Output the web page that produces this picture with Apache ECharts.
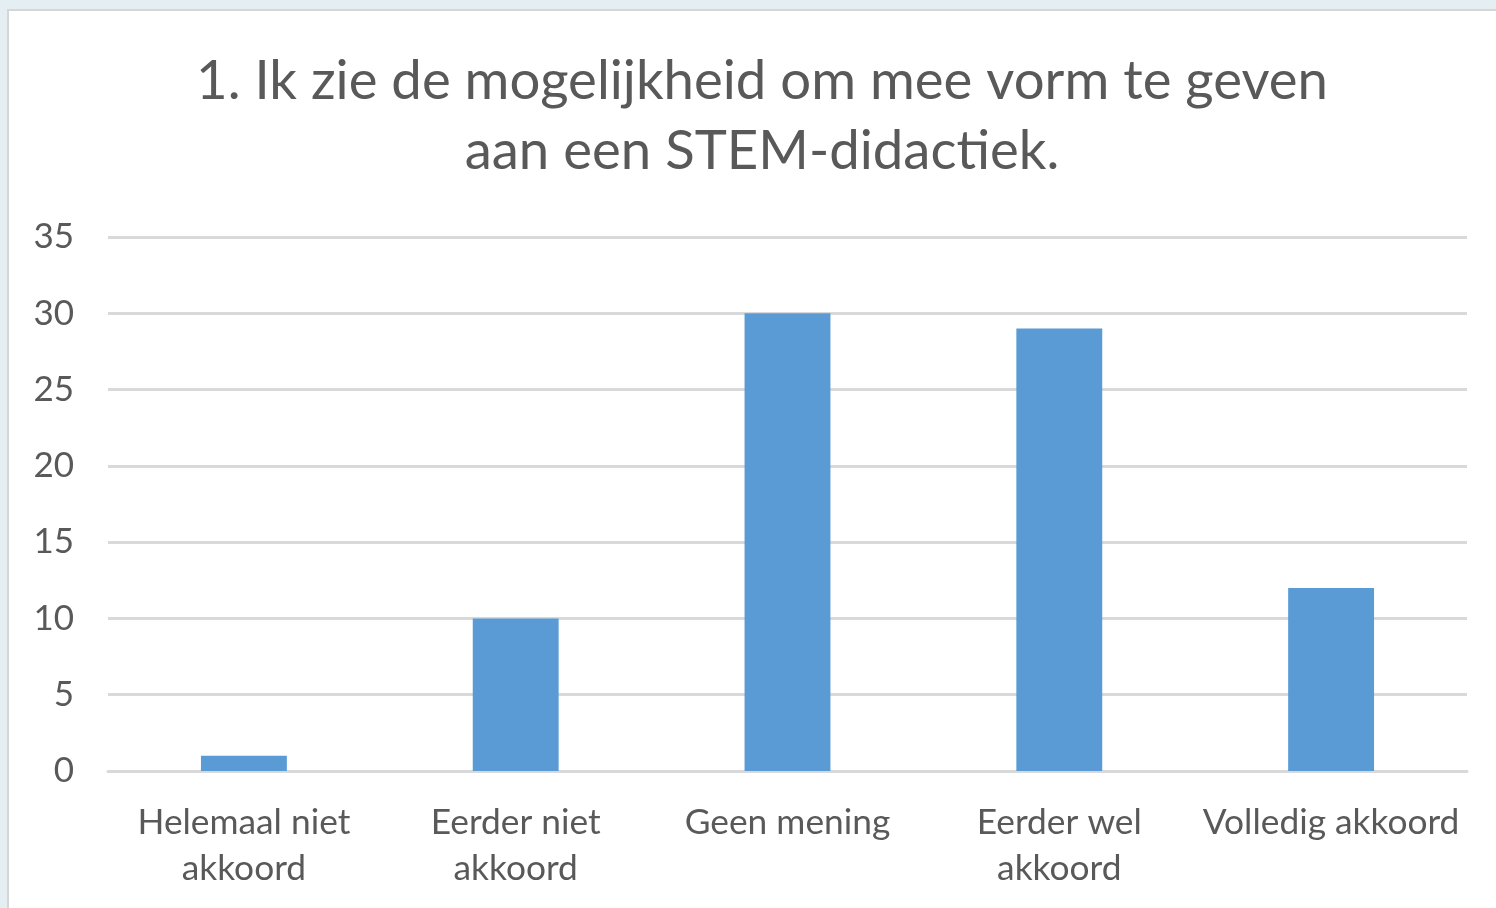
<!DOCTYPE html>
<html><head><meta charset="utf-8">
<script src="https://cdn.jsdelivr.net/npm/echarts@6/dist/echarts.min.js"></script>
<style>
html,body{margin:0;padding:0;width:1496px;height:908px;overflow:hidden;background:#e5eef2;}
#frame{position:absolute;left:7px;top:9px;width:1600px;height:1000px;background:#fff;border:2px solid #d6d6d6;}
#chart{position:absolute;left:0;top:0;width:1496px;height:908px;}
</style></head>
<body>
<div id="frame"></div>
<div id="chart"></div>
<script>
const titleText = "1. Ik zie de mogelijkheid om mee vorm te geven\naan een STEM-didactiek.";
const categories = ["Helemaal niet\nakkoord", "Eerder niet\nakkoord", "Geen mening", "Eerder wel\nakkoord", "Volledig akkoord"];
const values = [1, 10, 30, 29, 12];
const yMin = 0, yMax = 35, yStep = 5;

const chart = echarts.init(document.getElementById('chart'), null, {renderer:'canvas'});
const font = 'Lato, "Open Sans", sans-serif';
chart.setOption({
  backgroundColor: 'transparent',
  animation: false,
  title: {
    text: titleText,
    left: 757, textAlign: 'center', top: 41,
    textStyle: {fontFamily: font, fontSize: 54.5, fontWeight: 'normal', color: '#595959', lineHeight: 70}
  },
  grid: {left: 108, right: 29, top: 237, bottom: 137, containLabel: false},
  xAxis: {
    type: 'category', data: categories,
    axisLine: {show: true, lineStyle: {color: '#d9d9d9', width: 3}},
    axisTick: {show: false},
    axisLabel: {fontFamily: font, fontSize: 35.3, color: '#595959', margin: 29, lineHeight: 46, interval: 0}
  },
  yAxis: {
    type: 'value', min: yMin, max: yMax, interval: yStep,
    axisLine: {show: false}, axisTick: {show: false},
    axisLabel: {fontFamily: font, fontSize: 35, color: '#595959', margin: 34},
    splitLine: {lineStyle: {color: '#d9d9d9', width: 3}}
  },
  series: [{
    type: 'bar', data: values, barWidth: '31.6%',
    itemStyle: {color: '#5b9bd5'}
  }]
});
</script>
</body></html>
